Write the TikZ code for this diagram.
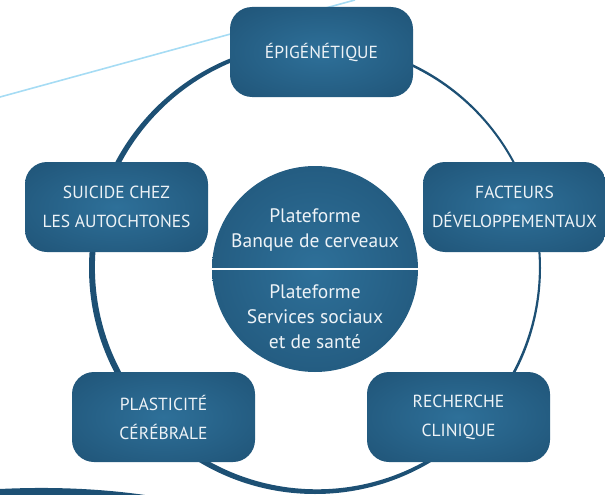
\documentclass[tikz,border=0pt]{standalone}
\usepackage{fontspec}
\setmainfont{PT Sans}
\definecolor{boxlight}{HTML}{2E7099}
\definecolor{boxdark}{HTML}{1A496A}
\definecolor{ringblue}{HTML}{1D5074}
\definecolor{skyline}{HTML}{A6DCF4}
\definecolor{paletext}{HTML}{EEF3F7}
\pgfdeclareradialshading{glow}{\pgfpoint{0bp}{0bp}}{color(0bp)=(boxlight); color(50bp)=(boxdark)}
\begin{document}
\begin{tikzpicture}[x=1pt, y=-1pt,
	theme/.style={rounded corners=22pt, shading=glow, minimum width=183pt, minimum height=90pt,
		text=paletext, align=center, font=\fontsize{17.5}{29}\selectfont},
	hubtext/.style={text=paletext, align=center, font=\fontsize{19.5}{25}\selectfont}]
	\useasboundingbox (0,0) rectangle (605,495);
	
	% thin line in the back
	\draw[skyline, line width=1.6pt] (0,97) -- (355,0);
	\fill[ringblue]
	(0,489) .. controls (60,486) and (110,490) .. (145,495) -- (0,495) -- cycle;
	
	% ring, heavier on the left
	\fill[ringblue, even odd rule]
	(315,268) circle[radius=226pt]
	(316.9,267.3) circle[radius=222pt];
	
	\node[circle, minimum size=206pt, shading=glow] (hub) at (315,269) {};
	\draw[white, line width=1.5pt] (hub.west) -- (hub.east);
	\node[hubtext] (bank) at (315,230) {Plateforme\\Banque de cerveaux};
	\node[hubtext] (care) at (315,317) {Plateforme\\Services sociaux\\et de santé};
	
	\node[theme] (epi) at (321.5,52) {ÉPIGÉNÉTIQUE};
	\node[theme] (dev) at (514.5,207) {FACTEURS\\DÉVELOPPEMENTAUX};
	\node[theme] (sui) at (116.5,207) {SUICIDE CHEZ\\LES AUTOCHTONES};
	\node[theme] (pla) at (163.5,417) {PLASTICITÉ\\CÉRÉBRALE};
	\node[theme] (cli) at (458.5,417) {RECHERCHE\\CLINIQUE};
	
\end{tikzpicture}
\end{document}
